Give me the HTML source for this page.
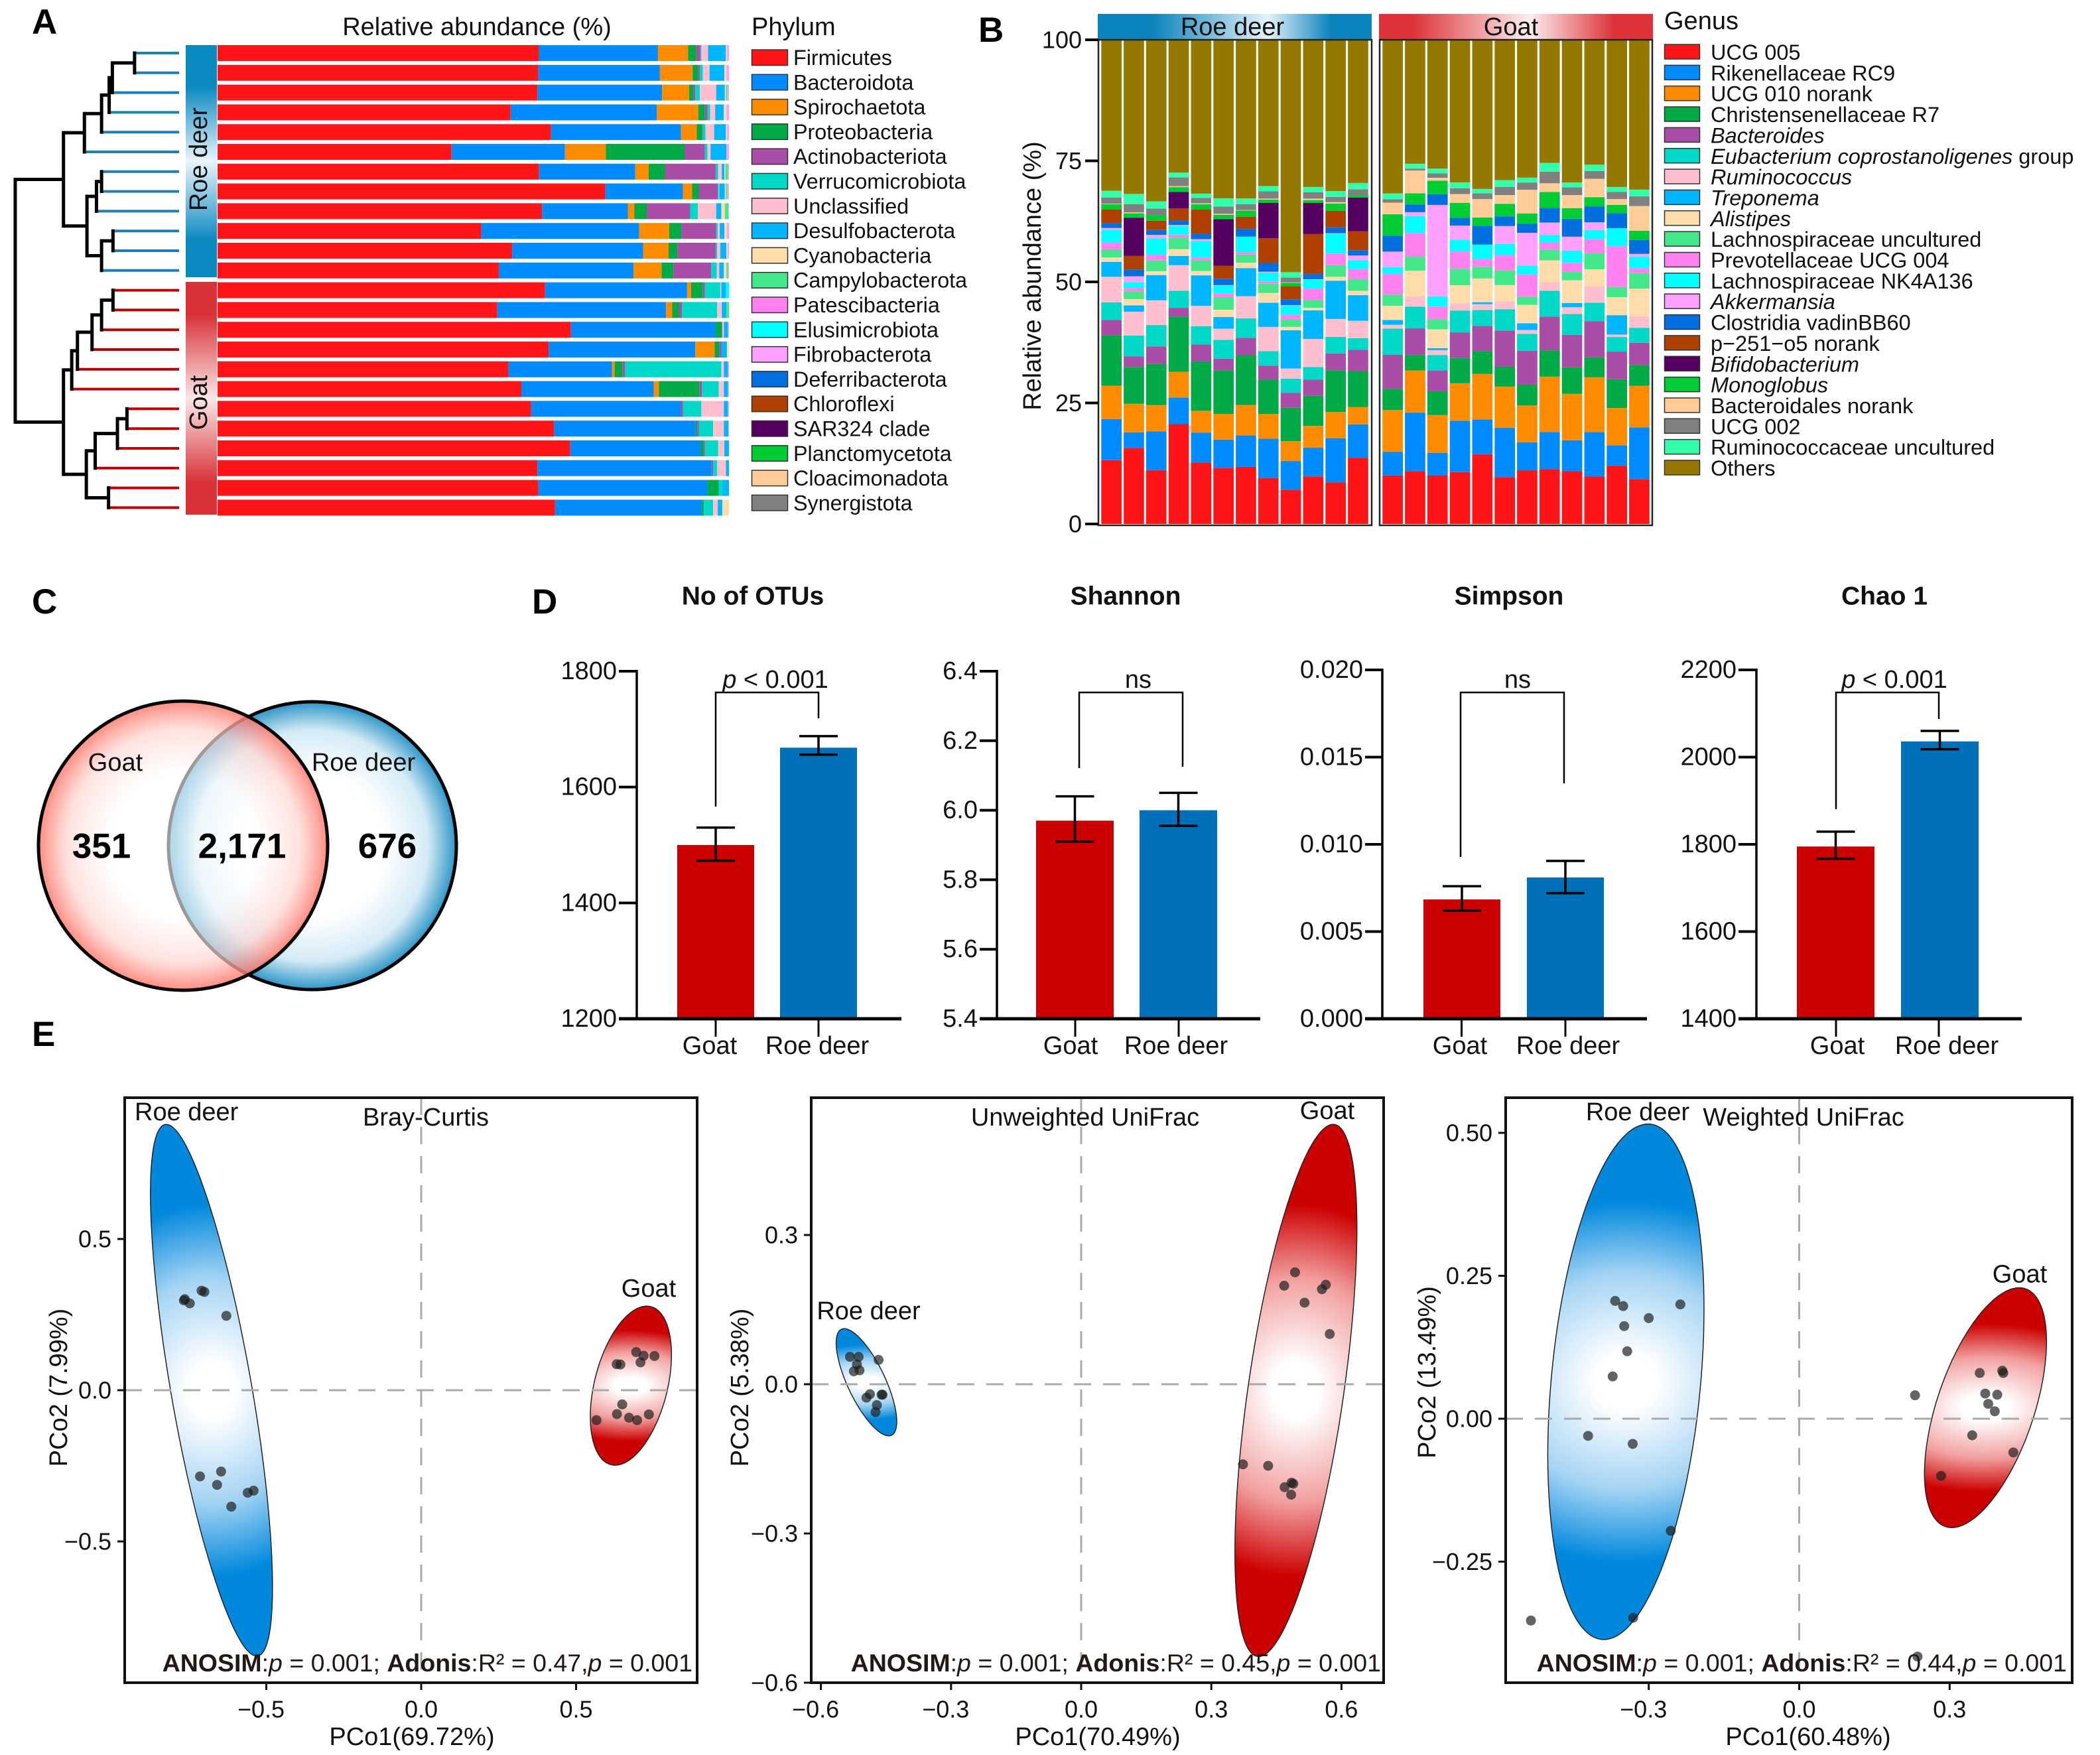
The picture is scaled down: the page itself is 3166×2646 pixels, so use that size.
<!DOCTYPE html>
<html lang="en">
<head>
<meta charset="utf-8">
<title>Gut microbiota of roe deer and goat</title>
<style>
html,body{margin:0;padding:0;background:#fff;}
svg{display:block;}
text{font-family:"Liberation Sans",Arial,sans-serif;fill:#111;}
.t38{font-size:38px;}
.letter{font-size:53px;font-weight:bold;fill:#000;}
.metric{font-size:39px;font-weight:bold;}
.num{font-size:53px;font-weight:bold;fill:#000;}
</style>
</head>
<body>
<svg id="figure" xmlns="http://www.w3.org/2000/svg" width="3166" height="2646" viewBox="0 0 3166 2646">
  <rect width="3166" height="2646" fill="#fff"/>
  <defs>
    <linearGradient id="stripRoe" x1="0" y1="0" x2="0" y2="1">
      <stop offset="0" stop-color="#0b8ac0"/><stop offset=".18" stop-color="#0b8ac0"/><stop offset=".5" stop-color="#eaf4fb"/><stop offset=".84" stop-color="#0b8ac0"/><stop offset="1" stop-color="#0b8ac0"/>
    </linearGradient>
    <linearGradient id="stripGoat" x1="0" y1="0" x2="0" y2="1">
      <stop offset="0" stop-color="#d83238"/><stop offset=".14" stop-color="#d83238"/><stop offset=".5" stop-color="#fbe6e6"/><stop offset=".86" stop-color="#d83238"/><stop offset="1" stop-color="#d83238"/>
    </linearGradient>
    <linearGradient id="headRoe" x1="0" y1="0" x2="1" y2="0">
      <stop offset="0" stop-color="#0b84bc"/><stop offset=".2" stop-color="#0b84bc"/><stop offset=".62" stop-color="#e6f2fa"/><stop offset=".85" stop-color="#0b84bc"/><stop offset="1" stop-color="#0b84bc"/>
    </linearGradient>
    <linearGradient id="headGoat" x1="0" y1="0" x2="1" y2="0">
      <stop offset="0" stop-color="#dc3238"/><stop offset=".12" stop-color="#dc3238"/><stop offset=".55" stop-color="#fdeeee"/><stop offset=".86" stop-color="#dc3238"/><stop offset="1" stop-color="#dc3238"/>
    </linearGradient>
    <radialGradient id="vennRoe" gradientUnits="userSpaceOnUse" cx="471" cy="1275" r="218">
      <stop offset="0" stop-color="#fff"/><stop offset=".5" stop-color="#fff"/><stop offset=".8" stop-color="#d4ebf6"/><stop offset="1" stop-color="#2a94c6"/>
    </radialGradient>
    <radialGradient id="vennGoat" gradientUnits="userSpaceOnUse" cx="276" cy="1275" r="219">
      <stop offset="0" stop-color="#fff" stop-opacity=".6"/><stop offset=".5" stop-color="#fff" stop-opacity=".6"/><stop offset=".8" stop-color="#ffd6d0" stop-opacity=".7"/><stop offset="1" stop-color="#ff7468" stop-opacity=".85"/>
    </radialGradient>
  </defs>

  <g>
    <text class="letter" x="48" y="51">A</text>
    <text class="letter" x="1475" y="63">B</text>
    <text class="letter" x="48" y="925">C</text>
    <text class="letter" x="802" y="925">D</text>
    <text class="letter" x="48" y="1577">E</text>
  </g>

  <g id="panelA">
    <text class="t38" x="719" y="41" text-anchor="middle" dominant-baseline="central">Relative abundance (%)</text>
    <text class="t38" x="1133" y="41" dominant-baseline="central">Phylum</text>
    <rect x="280" y="68" width="47" height="350" fill="url(#stripRoe)"/>
    <rect x="280" y="425" width="47" height="351" fill="url(#stripGoat)"/>
  </g>

  <g id="panelB">
    <rect x="1655" y="21" width="413" height="38" fill="url(#headRoe)"/>
    <rect x="2079" y="21" width="413" height="38" fill="url(#headGoat)"/>
    <text class="t38" x="1858" y="41" text-anchor="middle" dominant-baseline="central">Roe deer</text>
    <text class="t38" x="2278" y="41" text-anchor="middle" dominant-baseline="central">Goat</text>
    <text class="t38" x="2509" y="32" dominant-baseline="central">Genus</text>
    <text class="t38" transform="translate(1557 416) rotate(-90)" text-anchor="middle" dominant-baseline="central">Relative abundance (%)</text>
  </g>

  <g id="panelC">
    <circle cx="471" cy="1275" r="217" fill="url(#vennRoe)" stroke="#000" stroke-width="5"/>
    <circle cx="276" cy="1275" r="218" fill="url(#vennGoat)" stroke="#000" stroke-width="5"/>
    <text class="t38" x="174" y="1150" text-anchor="middle" dominant-baseline="central">Goat</text>
    <text class="t38" x="548" y="1150" text-anchor="middle" dominant-baseline="central">Roe deer</text>
    <text class="num" x="153" y="1276" text-anchor="middle" dominant-baseline="central">351</text>
    <text class="num" x="365" y="1276" text-anchor="middle" dominant-baseline="central">2,171</text>
    <text class="num" x="584" y="1276" text-anchor="middle" dominant-baseline="central">676</text>
  </g>

  <g id="panelD"></g>
  <g id="panelE"></g>
</svg>

<script>
/* ---------- Panel A data: percent of each phylum per sample ---------- */
const phylumNames = ['Firmicutes','Bacteroidota','Spirochaetota','Proteobacteria','Actinobacteriota','Verrucomicrobiota','Unclassified','Desulfobacterota','Cyanobacteria','Campylobacterota','Patescibacteria','Elusimicrobiota','Fibrobacterota','Deferribacterota','Chloroflexi','SAR324 clade','Planctomycetota','Cloacimonadota','Synergistota'];
const phylumColors = ['#ff1418','#008cff','#ff8c00','#00aa44','#aa4da6','#00d9c8','#ffbfcf','#00b6ff','#ffdcaa','#44e888','#ff80ee','#00ffff','#ffa0ff','#0070e0','#b04000','#550060','#00cc33','#ffcb96','#808080'];
const phylumRoe01 = [62.9,23.3,5.9,1.6,.8,.2,1.3,3.5,.2,0,0,0,.4];
const phylumRoe02 = [62.7,23.8,6.4,1.1,.3,.6,1.3,2.9,.4,0,0,0,.5];
const phylumRoe03 = [62.6,24.4,5.3,.8,.4,.9,3.2,1.7,.2,.3,0,0,.3];
const phylumRoe04 = [57.3,28.6,8.1,1.3,.5,.5,1,1.7,.5,0,0,0,.5];
const phylumRoe05 = [65.2,25.4,3.1,1.1,.1,.5,1.7,2.3,.2,0,0,0,.4];
const phylumRoe06 = [45.8,22.2,8,15.4,4,.5,.6,3.1,0,0,0,0,.5];
const phylumRoe07 = [62.8,18.8,2.6,3.2,9.9,.5,.7,.5,.2,.5,0,0,.2];
const phylumRoe08 = [75.8,15.2,1.8,1.3,3.7,.2,.1,1.1,.2,.3,0,0,.3];
const phylumRoe09 = [63.5,16.8,1.3,2.4,8.5,1.5,3.6,1,.7,.7,0,0,.1];
const phylumRoe10 = [51.6,30.9,5.9,2.4,6.8,.3,.4,.9,.5,0,0,0,.4];
const phylumRoe11 = [57.6,25.6,5,1.7,7.5,.3,.6,1.2,.2,0,0,0,.3];
const phylumRoe12 = [55.1,26.4,5.5,2.3,7.4,1.1,.5,.9,.5,.3,0,0,.2];
const phylumGoat01 = [64.1,27.8,.8,2.3,.4,3,.2,.9,0,0,0,.6,0];
const phylumGoat02 = [54.7,33,1.2,1.3,.6,6.9,.9,.9,0,.5,0,0,0];
const phylumGoat03 = [69.1,28.3,0,1.2,.1,0,.3,.8,0,0,0,0,.2];
const phylumGoat04 = [64.8,28.7,3.8,.9,.4,0,0,1.1,.4,0,0,0,0];
const phylumGoat05 = [57,20.3,.5,1.5,.5,18.9,.5,.8,0,0,0,0,.2];
const phylumGoat06 = [59.4,25.9,1,7.9,.5,3.3,1,.8,0,0,0,0,.2];
const phylumGoat07 = [61.3,29.3,0,0,.4,3.6,4.4,.8,0,0,0,0,.2];
const phylumGoat08 = [65.8,27.7,0,.3,.3,2.8,2.1,.9,0,0,0,0,.1];
const phylumGoat09 = [68.9,25.5,0,.5,.3,2.6,1.2,.9,0,0,0,0,0];
const phylumGoat10 = [62.6,34.1,0,0,.3,.8,1.7,.6,0,0,0,0,0];
const phylumGoat11 = [62.6,33,0,2.2,0,.7,0,1.3,0,0,0,0,0];
const phylumGoat12 = [66,28.7,0,.4,0,1.8,.9,.9,1.3,0,0,0,0];
const phylumSamples = [phylumRoe01,phylumRoe02,phylumRoe03,phylumRoe04,phylumRoe05,phylumRoe06,phylumRoe07,phylumRoe08,phylumRoe09,phylumRoe10,phylumRoe11,phylumRoe12,phylumGoat01,phylumGoat02,phylumGoat03,phylumGoat04,phylumGoat05,phylumGoat06,phylumGoat07,phylumGoat08,phylumGoat09,phylumGoat10,phylumGoat11,phylumGoat12];
/* clustering tree: [merge distance, child, child]; 'L' is one sample */
const roeTree = [100,[133,[160,[172,[177,[212,'L','L'],'L'],'L'],'L'],'L'],[137,[152,[160,'L','L'],'L'],[160,[178,'L','L'],'L']]];
const goatTree = [100,[113,[122,[145,[160,[178,'L','L'],'L'],'L'],'L'],'L'],[136,[150,[185,[200,'L','L'],'L'],'L'],[171,'L','L']]];

/* ---------- Panel B data: percent of each genus per sample ---------- */
const genusNames = ['UCG 005','Rikenellaceae RC9','UCG 010 norank','Christensenellaceae R7','Bacteroides','Eubacterium coprostanoligenes group','Ruminococcus','Treponema','Alistipes','Lachnospiraceae uncultured','Prevotellaceae UCG 004','Lachnospiraceae NK4A136','Akkermansia','Clostridia vadinBB60','p\u2212251\u2212o5 norank','Bifidobacterium','Monoglobus','Bacteroidales norank','UCG 002','Ruminococcaceae uncultured','Others'];
const genusItalicParts = ['','','','','Bacteroides','Eubacterium coprostanoligenes','Ruminococcus','Treponema','Alistipes','','','','Akkermansia','','','Bifidobacterium','Monoglobus','','','',''];
const genusColors = ['#ff1418','#008cff','#ff8c00','#00aa44','#aa4da6','#00d9c8','#ffbfcf','#00b6ff','#ffdcaa','#44e888','#ff80ee','#00ffff','#ffa0ff','#0070e0','#b04000','#550060','#00cc33','#ffcb96','#808080','#33ffaa','#947800'];
const genusTicks = [0,25,50,75,100];
const genusRoe01 = [13.2,8.5,6.9,10.4,3.2,3.6,5.3,3.1,.9,1.6,1.5,2.6,.4,1,2.8,0,1.1,.1,1.3,1.4,31.2];
const genusRoe02 = [15.7,3.2,5.9,7.6,2.2,4.3,4.9,1.3,1.3,1.6,.7,1.2,1.2,1.4,2.8,7.9,.9,.2,1.7,2.1,31.8];
const genusRoe03 = [11.1,8,5.4,8.5,3.6,4.4,5.1,5.2,.8,2.2,1.2,3.4,.7,1,1.9,0,1.2,0,1.3,1.5,33.3];
const genusRoe04 = [20.6,5.5,5.3,11.4,1.8,3.5,5.3,1.9,1.4,2.4,.6,1.8,.2,.9,2.5,3.4,1,.2,1.8,1,27.4];
const genusRoe05 = [12.7,6.2,4.5,10.2,3.5,3.8,4.2,6.3,.9,2.2,.6,3.4,.4,1.1,5,0,1.1,.2,1.1,.9,31.8];
const genusRoe06 = [11.6,5.8,5.3,9,2.4,3.9,2.3,2.4,1.5,2.6,.8,1.6,.1,1.3,2.7,9.6,.9,.2,1.5,1.7,32.7];
const genusRoe07 = [11.8,6.5,6.3,10.3,3.6,4,4.6,5.8,1.1,1.7,.5,3.2,0,1.6,2.5,0,1.3,.1,1.2,1.2,32.8];
const genusRoe08 = [9.5,8.1,5.1,7.1,2.9,3,5,5,2,1.9,.5,1.8,.2,1.8,5.1,7.3,.7,.2,1.5,1.1,30.2];
const genusRoe09 = [7.1,5.9,4.1,6.9,3.1,2.9,2.1,7.9,.7,1.5,1,1.9,.1,1.2,2.7,0,.7,.1,1,1.1,48];
const genusRoe10 = [9.8,5.9,4.5,6.2,3.3,2.6,5.8,5.9,.5,1.6,2.4,1.8,.1,1.1,8.2,6.4,.6,.3,1.3,1.1,30.3];
const genusRoe11 = [8.6,9.1,5.4,8.6,3.5,3.4,3.7,7.9,.8,2.4,2.4,4.1,.1,1.2,3.4,0,1.5,.3,1.1,1.2,31.2];
const genusRoe12 = [13.7,6.9,3.6,7.4,4.4,2.4,3.6,5.3,.9,2.4,2.1,1.8,1,1.1,3.9,7,.5,0,1.2,1.3,29.6];
const genusGoat01 = [10,4.9,8.6,4.4,7,5.4,.8,1,2.9,2.3,4.3,1.4,3.2,3.3,0,0,4.4,2.4,.7,1.2,31.7];
const genusGoat02 = [10.9,12.1,8.7,3.2,5.5,4.5,2.1,0,5.3,2.9,4.9,3.5,.8,1.6,0,0,2.3,4.7,.4,1,25.6];
const genusGoat03 = [10,4.7,7.8,4.9,4.3,3.2,1,.4,3.9,2.1,2.6,2.1,18.9,2.2,0,0,2.8,.6,.9,1,26.6];
const genusGoat04 = [10.7,10.6,7.7,5.2,5.3,4.5,1.5,0,3.7,3.4,3.6,2.4,2.9,1.6,0,0,3.1,1.8,1.2,1.2,29.4];
const genusGoat05 = [14.4,7.2,9.4,4.7,5.2,3.3,1.2,.4,4.9,2.4,1.6,3,0,3.9,0,0,1.7,3.8,1.2,.9,30.8];
const genusGoat06 = [9.7,10.2,8.5,4.1,7.5,4.4,1.6,0,3.4,3,3.2,2.3,3.7,2,0,0,2.6,1.8,1.7,1.4,29];
const genusGoat07 = [11.1,5.8,7.6,4.3,7,3.5,.8,1.4,3.8,1.7,4.6,1.8,6.8,1.9,0,0,2.1,4.9,1.5,1,28.5];
const genusGoat08 = [11.3,7.7,11.4,5.4,7,5.3,1.8,0,4.5,2.2,1.5,1.5,2.6,3,0,0,3.3,1.8,2.4,1.8,25.4];
const genusGoat09 = [10.9,6.4,9.6,5.5,6.7,4.3,1.4,.9,4.7,1.7,1.9,2.5,2.9,3.7,0,0,2.2,2.7,1.6,1,29.5];
const genusGoat10 = [9.8,9.2,11.3,4.1,7.5,3.8,3.4,0,3.5,3.3,2.9,1.9,1.6,3.3,0,0,1.9,3.8,1.6,1.3,25.8];
const genusGoat11 = [12,4.2,7.7,5.9,5.7,3,.5,4,3.7,2.1,8.4,3.7,0,3.1,0,0,1.7,1.2,1.5,1,30.3];
const genusGoat12 = [9.3,10.7,8.6,4.3,4.6,3.1,2.4,0,5.7,3.2,1,2.4,.6,2.9,0,0,1.9,5.1,2,1.4,31];
const genusSamplesRoe = [genusRoe01,genusRoe02,genusRoe03,genusRoe04,genusRoe05,genusRoe06,genusRoe07,genusRoe08,genusRoe09,genusRoe10,genusRoe11,genusRoe12];
const genusSamplesGoat = [genusGoat01,genusGoat02,genusGoat03,genusGoat04,genusGoat05,genusGoat06,genusGoat07,genusGoat08,genusGoat09,genusGoat10,genusGoat11,genusGoat12];

/* ---------- Panel D data ---------- */
const alphaMetrics = ['No of OTUs','Shannon','Simpson','Chao 1'];
const alphaGoatMean = [1500,5.97,0.00684,1795];
const alphaRoeMean = [1668,6.0,0.0081,2036];
const alphaGoatHigh = [1530,6.04,0.0076,1829];
const alphaGoatLow = [1473,5.91,0.0062,1767];
const alphaRoeHigh = [1688,6.05,0.00905,2060];
const alphaRoeLow = [1656,5.955,0.0072,2018];
const alphaTicks = [[1200,1400,1600,1800],[5.4,5.6,5.8,6.0,6.2,6.4],[0,0.005,0.01,0.015,0.02],[1400,1600,1800,2000,2200]];
const alphaTickLabels = [['1200','1400','1600','1800'],['5.4','5.6','5.8','6.0','6.2','6.4'],['0.000','0.005','0.010','0.015','0.020'],['1400','1600','1800','2000','2200']];
const alphaSignificance = ['p','ns','ns','p'];
const alphaGroups = ['Goat','Roe deer'];

/* ---------- Panel E data ---------- */
const pcoaTitles = ['Bray-Curtis','Unweighted UniFrac','Weighted UniFrac'];
const pcoaXTitles = ['PCo1(69.72%)','PCo1(70.49%)','PCo1(60.48%)'];
const pcoaYTitles = ['PCo2 (7.99%)','PCo2 (5.38%)','PCo2 (13.49%)'];
const pcoaR2 = ['0.47','0.45','0.44'];
const pcoaXTicks = [[-0.5,0,0.5],[-0.6,-0.3,0,0.3,0.6],[-0.3,0,0.3]];
const pcoaXLabels = [['\u22120.5','0.0','0.5'],['\u22120.6','\u22120.3','0.0','0.3','0.6'],['\u22120.3','0.0','0.3']];
const pcoaYTicks = [[-0.5,0,0.5],[-0.6,-0.3,0,0.3],[-0.25,0,0.25,0.5]];
const pcoaYLabels = [['\u22120.5','0.0','0.5'],['\u22120.6','\u22120.3','0.0','0.3'],['\u22120.25','0.00','0.25','0.50']];
const brayRoeX = [-.763,-.766,-.747,-.709,-.700,-.629,-.714,-.646,-.659,-.613,-.560,-.541];
const brayRoeY = [.301,.297,.287,.329,.325,.246,-.285,-.269,-.313,-.385,-.339,-.332];
const brayGoatX = [.631,.643,.694,.718,.708,.753,.649,.632,.671,.697,.735,.566];
const brayGoatY = [.086,.085,.126,.114,.092,.113,-.047,-.079,-.091,-.099,-.080,-.099];
const unwRoeX = [-.533,-.513,-.467,-.517,-.511,-.524,-.487,-.495,-.460,-.458,-.471,-.474];
const unwRoeY = [.055,.055,.049,.040,.028,.026,-.020,-.027,-.021,-.021,-.042,-.056];
const unwGoatX = [.493,.468,.555,.564,.515,.573,.373,.431,.485,.489,.469,.484];
const unwGoatY = [.225,.198,.191,.200,.164,.101,-.161,-.164,-.198,-.200,-.207,-.222];
const wRoeX = [-.367,-.351,-.349,-.300,-.237,-.343,-.372,-.421,-.332,-.256,-.331,-.535];
const wRoeY = [.206,.197,.162,.176,.200,.118,.074,-.030,-.044,-.196,-.348,-.353];
const wGoatX = [.231,.360,.405,.407,.371,.395,.377,.390,.345,.427,.283,.236];
const wGoatY = [.041,.080,.084,.080,.044,.042,.026,.013,-.029,-.059,-.100,-.416];
/* confidence ellipses: [centre x, centre y, half width, half height, x shift of top point] */
const brayRoeEllipse = [-.677,0,.197,.879,-.146];
const brayGoatEllipse = [.677,.015,.131,.263,.051];
const unwRoeEllipse = [-.495,.004,.0698,.1077,-.0512];
const unwGoatEllipse = [.495,-.0125,.1406,.535,.0858];
const wRoeEllipse = [-.3456,.0646,.1558,.4509,.044];
const wGoatEllipse = [.3715,.0193,.1217,.2098,.0672];

/* ---------- Layout (not data) ---------- */
const alphaLayout = [
 {axis:960,tickL:933,right:1359,top:1012,bars:[1021,1176],barW:116,ticks:[1079,1234],labels:[1070,1232],title:1135,brL:1079,brR:1234,dropL:1216,dropR:1083,sig:1169},
 {axis:1503,tickL:1477,right:1900,top:1012,bars:[1562,1718],barW:117,ticks:[1621,1777],labels:[1614,1773],title:1697,brL:1627,brR:1783,dropL:1158,dropR:1156,sig:1716},
 {axis:2084,tickL:2058,right:2483,top:1010,bars:[2146,2302],barW:116,ticks:[2203.5,2360],labels:[2201,2364],title:2275,brL:2202,brR:2358,dropL:1292,dropR:1181,sig:2288},
 {axis:2648,tickL:2621,right:3048,top:1010,bars:[2709,2866],barW:117,ticks:[2768,2923],labels:[2770,2935],title:2841,brL:2768,brR:2923,dropL:1220,dropR:1084,sig:2856}
];
const pcoaLayout = [
 {l:188,r:1051,x0:635,xu:467,y0:2096,yu:456,yTitleX:89,yTitleY:2092,xTitleX:621,titleX:642,roe:[203,1677,'start'],goat:[978,1943],noteR:1044,roeX:brayRoeX,roeY:brayRoeY,goatX:brayGoatX,goatY:brayGoatY,roeE:brayRoeEllipse,goatE:brayGoatEllipse,key:'bray-curtis'},
 {l:1223,r:2086,x0:1630,xu:654,y0:2087,yu:750,yTitleX:1116,yTitleY:2092,xTitleX:1655,titleX:1636,roe:[1309.5,1977,'middle'],goat:[2001,1675],noteR:2082,roeX:unwRoeX,roeY:unwRoeY,goatX:unwGoatX,goatY:unwGoatY,roeE:unwRoeEllipse,goatE:unwGoatEllipse,key:'unweighted-unifrac'},
 {l:2270,r:3124,x0:2712.5,xu:756,y0:2139,yu:862,yTitleX:2152,yTitleY:2069,xTitleX:2726,titleX:2719,roe:[2469,1677,'middle'],goat:[3045,1921.5],noteR:3116,roeX:wRoeX,roeY:wRoeY,goatX:wGoatX,goatY:wGoatY,roeE:wRoeEllipse,goatE:wGoatEllipse,key:'weighted-unifrac'}
];

/* ---------- Helpers ---------- */
const NS = 'http://www.w3.org/2000/svg';
function make(tag, parent, attrs, txt) {
  const el = document.createElementNS(NS, tag);
  for (const k in attrs) el.setAttribute(k, attrs[k]);
  if (txt !== undefined) el.textContent = txt;
  parent.appendChild(el);
  return el;
}
function sum(a) { return a.reduce((s, v) => s + v, 0); }
const panelA = document.getElementById('panelA');
const panelB = document.getElementById('panelB');
const panelD = document.getElementById('panelD');
const panelE = document.getElementById('panelE');
const defs = document.querySelector('defs');

/* ---------- Panel A ---------- */
const phylumX = v => 328 + v * 7.71;
const rowTop = i => 68 + i * 29.8;
phylumSamples.forEach((row, i) => {
  const total = sum(row);
  let cum = 0;
  row.forEach((v, s) => {
    if (v <= 0) return;
    const share = v / total * 100;
    const seg = make('rect', panelA, {x: phylumX(cum), y: rowTop(i), width: phylumX(cum + share) - phylumX(cum), height: 24, fill: phylumColors[s]});
    
    
    cum += share;
  });
});
const dendroX = d => d / 1.045;
let leafIndex = 0;
function drawTree(node, color) {
  if (node === 'L') {
    const y = rowTop(leafIndex) + 12;
    leafIndex += 1;
    return {y: y, x: 270, leaf: true};
  }
  const a = drawTree(node[1], color);
  const b = drawTree(node[2], color);
  const x = dendroX(node[0]);
  [a, b].forEach(c => {
    const arm = make('line', panelA, {x1: x, y1: c.y, x2: c.x, y2: c.y, stroke: c.leaf ? color : '#000', 'stroke-width': c.leaf ? 4 : 5});
    
    
  });
  const stem = make('line', panelA, {x1: x, y1: a.y - 2.5, x2: x, y2: b.y + 2.5, stroke: '#000', 'stroke-width': 5});
  
  
  return {y: (a.y + b.y) / 2, x: x, leaf: false};
}
const roeTop = drawTree(roeTree, '#1b80b8');
const goatTop = drawTree(goatTree, '#c00000');
const rootX = dendroX(24);
[roeTop, goatTop].forEach(c => {
  const arm = make('line', panelA, {x1: rootX, y1: c.y, x2: c.x, y2: c.y, stroke: '#000', 'stroke-width': 5});
  
  
});
const rootStem = make('line', panelA, {x1: rootX, y1: roeTop.y - 2.5, x2: rootX, y2: goatTop.y + 2.5, stroke: '#000', 'stroke-width': 5});


const roeStripText = make('text', panelA, {class: 't38', transform: 'translate(300 240) rotate(-90)', 'text-anchor': 'middle', 'dominant-baseline': 'central'}, 'Roe deer');


const goatStripText = make('text', panelA, {class: 't38', transform: 'translate(300 607) rotate(-90)', 'text-anchor': 'middle', 'dominant-baseline': 'central'}, 'Goat');


phylumNames.forEach((name, i) => {
  const y = 75 + i * 37.3;
  const sw = make('rect', panelA, {x: 1133.5, y: y, width: 54, height: 23.5, fill: phylumColors[i], stroke: '#333', 'stroke-width': 1.5});
  
  
  const lb = make('text', panelA, {x: 1196, y: y + 12, 'font-size': 32.3, 'dominant-baseline': 'central'}, name);
  
  
});

/* ---------- Panel B ---------- */
const genusY = v => 790 - v * 7.3;
function drawGenusGroup(samples, startX) {
  samples.forEach((row, i) => {
    const total = sum(row);
    let cum = 0;
    const x = startX + i * 33.8;
    row.forEach((v, s) => {
      if (v <= 0) return;
      const share = v / total * 100;
      const seg = make('rect', panelB, {x: x, y: genusY(cum + share), width: 30.7, height: genusY(cum) - genusY(cum + share), fill: genusColors[s]});
      
      
      cum += share;
    });
  });
}
drawGenusGroup(genusSamplesRoe, 1660.3);
drawGenusGroup(genusSamplesGoat, 2084.3);
[[1656, 412], [2080, 411]].forEach(f => {
  const fr = make('rect', panelB, {x: f[0], y: 60, width: f[1], height: 732, fill: 'none', stroke: '#222', 'stroke-width': 2.5});
  
  
});
genusTicks.forEach(t => {
  const tk = make('line', panelB, {x1: 1636, x2: 1656, y1: genusY(t), y2: genusY(t), stroke: '#000', 'stroke-width': 4});
  
  
  const lb = make('text', panelB, {x: 1631, y: genusY(t), 'font-size': 36, 'text-anchor': 'end', 'dominant-baseline': 'central'}, String(t));
  
  
});
genusNames.forEach((name, i) => {
  const y = 67 + i * 31.35;
  const sw = make('rect', panelB, {x: 2509.5, y: y, width: 53, height: 22, fill: genusColors[i], stroke: '#333', 'stroke-width': 1.5});
  
  
  const lb = make('text', panelB, {x: 2579, y: y + 12, 'font-size': 32.5, 'dominant-baseline': 'central'});
  
  
  const it = genusItalicParts[i];
  if (it) {
    make('tspan', lb, {'font-style': 'italic'}, it);
    if (name.length > it.length) make('tspan', lb, {}, name.slice(it.length));
  } else {
    lb.textContent = name;
  }
});

/* ---------- Panel D ---------- */
const alphaBase = 1536;
alphaMetrics.forEach((metric, m) => {
  const L = alphaLayout[m];
  const ticks = alphaTicks[m];
  const lo = ticks[0];
  const hi = ticks[ticks.length - 1];
  const y = v => alphaBase - (v - lo) / (hi - lo) * (alphaBase - L.top);
  const t = make('text', panelD, {class: 'metric', x: L.title, y: 899, 'text-anchor': 'middle', 'dominant-baseline': 'central'}, metric);
  
  
  [alphaGoatMean[m], alphaRoeMean[m]].forEach((v, g) => {
    const bar = make('rect', panelD, {x: L.bars[g], y: y(v), width: L.barW, height: alphaBase - y(v), fill: g === 0 ? '#cc0000' : '#0070b8'});
    
    
    const cx = L.bars[g] + L.barW / 2;
    const h = g === 0 ? alphaGoatHigh[m] : alphaRoeHigh[m];
    const l = g === 0 ? alphaGoatLow[m] : alphaRoeLow[m];
    const ev = make('path', panelD, {d: `M${cx - 29} ${y(h)}H${cx + 29}M${cx} ${y(h)}V${y(l)}M${cx - 29} ${y(l)}H${cx + 29}`, stroke: '#000', 'stroke-width': 3.5, fill: 'none'});
    
    
    const tk = make('line', panelD, {x1: L.ticks[g], x2: L.ticks[g], y1: alphaBase, y2: 1563, stroke: '#000', 'stroke-width': 3});
    
    
    const gl = make('text', panelD, {x: L.labels[g], y: 1577, 'font-size': 38, 'text-anchor': 'middle', 'dominant-baseline': 'central'}, alphaGroups[g]);
    
    
  });
  const ya = make('line', panelD, {x1: L.axis, x2: L.axis, y1: L.top - 2, y2: alphaBase, stroke: '#000', 'stroke-width': 3.5});
  
  
  const xa = make('line', panelD, {x1: L.tickL, x2: L.right, y1: alphaBase, y2: alphaBase, stroke: '#000', 'stroke-width': 5});
  
  
  ticks.forEach((tv, i) => {
    const tk = make('line', panelD, {x1: L.tickL, x2: L.axis, y1: y(tv), y2: y(tv), stroke: '#000', 'stroke-width': 4});
    
    
    const lb = make('text', panelD, {x: L.tickL - 3, y: y(tv), 'font-size': 38, 'text-anchor': 'end', 'dominant-baseline': 'central'}, alphaTickLabels[m][i]);
    
    
  });
  const br = make('path', panelD, {d: `M${L.brL} ${L.dropL}V1044H${L.brR}V${L.dropR}`, stroke: '#000', 'stroke-width': 2.5, fill: 'none'});
  
  
  const sig = make('text', panelD, {x: L.sig, y: 1025, 'font-size': 38, 'text-anchor': 'middle', 'dominant-baseline': 'central'});
  
  
  if (alphaSignificance[m] === 'p') {
    make('tspan', sig, {'font-style': 'italic'}, 'p');
    make('tspan', sig, {}, ' < 0.001');
  } else {
    sig.textContent = 'ns';
  }
});

/* ---------- Panel E ---------- */
function addGradient(id, color, mid) {
  const g = make('radialGradient', defs, {id: id, cx: .5, cy: .5, r: .5, gradientTransform: 'translate(.5 .5) scale(2.6 .7) translate(-.5 -.5)'});
  make('stop', g, {offset: 0, 'stop-color': '#fff'});
  make('stop', g, {offset: .15, 'stop-color': '#fff'});
  make('stop', g, {offset: .6, 'stop-color': mid});
  make('stop', g, {offset: 1, 'stop-color': color});
}
const frameTop = 1655;
const frameBottom = 2537;
pcoaLayout.forEach((L, p) => {
  const X = v => L.x0 + v * L.xu;
  const Y = v => L.y0 - v * L.yu;
  addGradient('pcoaRoe' + p, '#0088dd', '#a4d4f4');
  addGradient('pcoaGoat' + p, '#cc0000', '#f2a0a0');
  [[L.roeE, 'pcoaRoe' + p, 'roe-deer-ellipse'], [L.goatE, 'pcoaGoat' + p, 'goat-ellipse']].forEach(e => {
    const [cx, cy, w, h, off] = e[0];
    const delta = Math.acos(off / w);
    let d = '';
    for (let k = 0; k <= 120; k++) {
      const a = k / 120 * 2 * Math.PI;
      d += (k ? 'L' : 'M') + X(cx + w * Math.cos(a)).toFixed(1) + ' ' + Y(cy + h * Math.cos(a - delta)).toFixed(1);
    }
    const el = make('path', panelE, {d: d + 'Z', fill: `url(#${e[1]})`, stroke: '#222', 'stroke-width': 1.5});
    
    
  });
  const hz = make('line', panelE, {x1: L.l, x2: L.r, y1: Y(0), y2: Y(0), stroke: '#aaa', 'stroke-width': 3, 'stroke-dasharray': '26 18'});
  
  
  const vt = make('line', panelE, {x1: X(0), x2: X(0), y1: frameTop, y2: frameBottom, stroke: '#aaa', 'stroke-width': 3, 'stroke-dasharray': '26 18'});
  
  
  [[L.roeX, L.roeY], [L.goatX, L.goatY]].forEach(s => {
    s[0].forEach((v, i) => {
      const pt = make('circle', panelE, {cx: X(v), cy: Y(s[1][i]), r: 7.5, fill: '#1a1a1a', 'fill-opacity': .68});
      
      
    });
  });
  const frame = make('rect', panelE, {x: L.l, y: frameTop, width: L.r - L.l, height: frameBottom - frameTop, fill: 'none', stroke: '#111', 'stroke-width': 4});
  
  
  pcoaXTicks[p].forEach((tv, i) => {
    const tk = make('line', panelE, {x1: X(tv), x2: X(tv), y1: frameBottom, y2: frameBottom + 11, stroke: '#111', 'stroke-width': 3});
    
    
    const lb = make('text', panelE, {x: X(tv) - (tv < 0 ? 8 : 0), y: 2577, 'font-size': 36, 'text-anchor': 'middle', 'dominant-baseline': 'central'}, pcoaXLabels[p][i]);
    
    
  });
  pcoaYTicks[p].forEach((tv, i) => {
    const tk = make('line', panelE, {x1: L.l - 11, x2: L.l, y1: Y(tv), y2: Y(tv), stroke: '#111', 'stroke-width': 3});
    
    
    const lb = make('text', panelE, {x: L.l - 20, y: Y(tv), 'font-size': 36, 'text-anchor': 'end', 'dominant-baseline': 'central'}, pcoaYLabels[p][i]);
    
    
  });
  const xt = make('text', panelE, {x: L.xTitleX, y: 2619, 'font-size': 38, 'text-anchor': 'middle', 'dominant-baseline': 'central'}, pcoaXTitles[p]);
  
  
  const yt = make('text', panelE, {transform: `translate(${L.yTitleX} ${L.yTitleY}) rotate(-90)`, 'font-size': 38, 'text-anchor': 'middle', 'dominant-baseline': 'central'}, pcoaYTitles[p]);
  
  
  const ttl = make('text', panelE, {x: L.titleX, y: 1685, 'font-size': 38, 'text-anchor': 'middle', 'dominant-baseline': 'central'}, pcoaTitles[p]);
  
  
  const rl = make('text', panelE, {x: L.roe[0], y: L.roe[1], 'font-size': 38, 'text-anchor': L.roe[2], 'dominant-baseline': 'central'}, 'Roe deer');
  
  
  const gl = make('text', panelE, {x: L.goat[0], y: L.goat[1], 'font-size': 38, 'text-anchor': 'middle', 'dominant-baseline': 'central'}, 'Goat');
  
  
  const note = make('text', panelE, {x: L.noteR, y: 2507, 'font-size': 37.5, 'text-anchor': 'end', 'dominant-baseline': 'central'});
  
  
  make('tspan', note, {'font-weight': 'bold', fill: '#231815'}, 'ANOSIM');
  make('tspan', note, {fill: '#231815'}, ':');
  make('tspan', note, {'font-style': 'italic', fill: '#231815'}, 'p');
  make('tspan', note, {fill: '#231815'}, ' = 0.001; ');
  make('tspan', note, {'font-weight': 'bold', fill: '#231815'}, 'Adonis');
  make('tspan', note, {fill: '#231815'}, ':R\u00B2 = ' + pcoaR2[p] + ',');
  make('tspan', note, {'font-style': 'italic', fill: '#231815'}, 'p');
  make('tspan', note, {fill: '#231815'}, ' = 0.001');
});
</script>
</body>
</html>
